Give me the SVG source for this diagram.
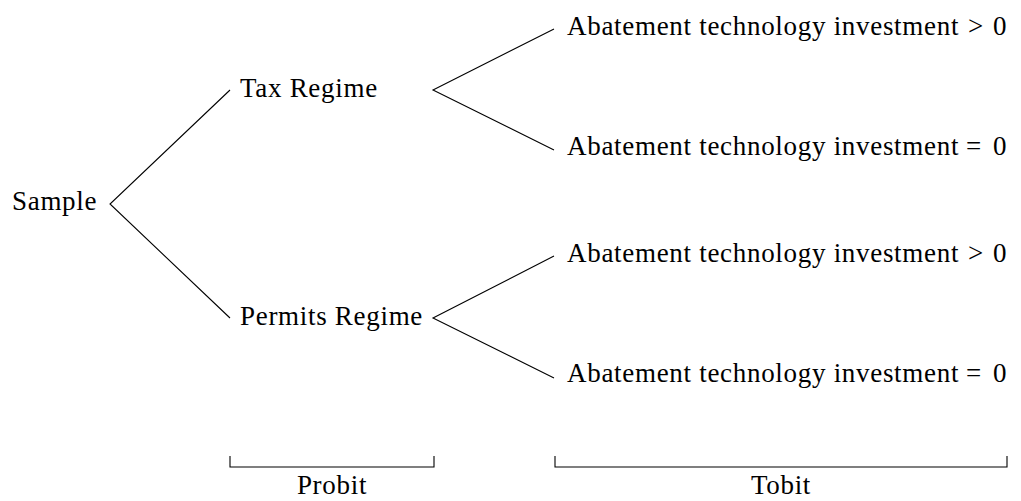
<svg xmlns="http://www.w3.org/2000/svg" width="1021" height="501" viewBox="0 0 1021 501">
<style>
text{font-family:"Liberation Serif","DejaVu Serif",serif;font-size:27px;fill:#000;letter-spacing:0.7px}
.c{stroke:#000;stroke-width:1.1;fill:none}
.r{letter-spacing:0}
</style>
<rect width="1021" height="501" fill="#fff"/>
<g id="sample"><text x="12" y="210">Sample</text></g>
<g id="tax"><text x="240" y="97">Tax Regime</text></g>
<g id="permits"><text x="240" y="325">Permits Regime</text></g>
<g id="tax-pos"><text x="567" y="35">Abatement technology investment<tspan class="r" x="968">&gt;</tspan><tspan class="r" x="993">0</tspan></text></g>
<g id="tax-zero"><text x="567" y="155">Abatement technology investment<tspan class="r" x="966">=</tspan><tspan class="r" x="993">0</tspan></text></g>
<g id="perm-pos"><text x="567" y="262">Abatement technology investment<tspan class="r" x="968">&gt;</tspan><tspan class="r" x="993">0</tspan></text></g>
<g id="perm-zero"><text x="567" y="382">Abatement technology investment<tspan class="r" x="966">=</tspan><tspan class="r" x="993">0</tspan></text></g>
<g id="connectors">
<polyline class="c" points="230,90 110,204 230,318"/>
<polyline class="c" points="554,29 433,90 554,150"/>
<polyline class="c" points="554,256 433,318 554,378"/>
</g>
<g id="probit"><polyline class="c" points="230,456 230,467 434,467 434,456"/><text x="332" y="494" text-anchor="middle">Probit</text></g>
<g id="tobit"><polyline class="c" points="555,456 555,467 1007,467 1007,456"/><text x="781" y="494" text-anchor="middle">Tobit</text></g>
</svg>
